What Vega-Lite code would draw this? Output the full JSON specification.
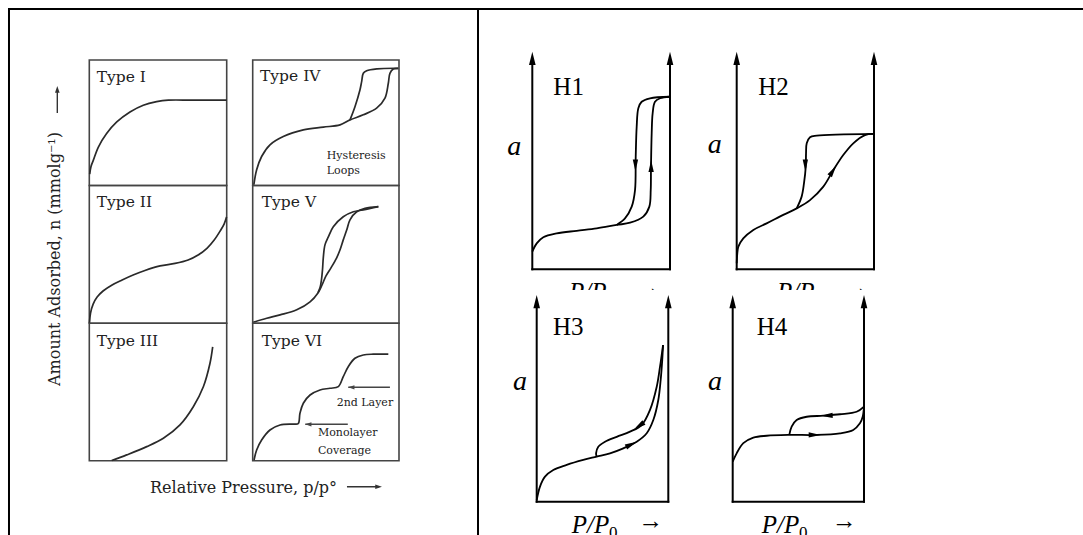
{
"$schema":"https://vega.github.io/schema/vega-lite/v6.json",
"width":1083,"height":535,"autosize":{"type":"none"},"padding":0,"background":"white",
"config":{"view":{"stroke":null},"axis":{"disable":true},"legend":{"disable":true}},
"resolve":{"scale":{"x":"independent","y":"independent"}},
"datasets":{
"fig":[
{"part":"frame","x":-0.2625,"y":1.1273,"x2":3.2086,"y2":1.1273},
{"part":"frame","x":-0.2593,"y":1.1298,"x2":-0.2593,"y2":-0.1854},
{"part":"frame","x":1.2551,"y":1.1298,"x2":1.2551,"y2":-0.1854},
{"part":"ylab","x":-0.1108,"y":0.5034,"text":"Amount Adsorbed, n (mmolg⁻¹)"},
{"part":"xlab","x":0.196,"y":-0.0799,"text":"Relative Pressure, p/p°"},
{"part":"aline","x":0.832,"y":-0.0649,"x2":0.935,"y2":-0.0649},
{"part":"aline","x":-0.1033,"y":0.8677,"x2":-0.1033,"y2":0.925},
{"part":"head","x":0.945,"y":-0.0649,"heading":90},
{"part":"head","x":-0.1033,"y":0.935,"heading":0}
],
"t1":[
{"part":"box","x":0,"y":0,"x2":1,"y2":1},
{"part":"label","x":0.054,"y":0.826,"text":"Type I"},
{"part":"curve","branch":"a","i":0,"x":0.003,"y":0.09},
{"part":"curve","branch":"a","i":1,"x":0.012,"y":0.15},
{"part":"curve","branch":"a","i":2,"x":0.029,"y":0.2},
{"part":"curve","branch":"a","i":3,"x":0.066,"y":0.306},
{"part":"curve","branch":"a","i":4,"x":0.126,"y":0.414},
{"part":"curve","branch":"a","i":5,"x":0.2,"y":0.506},
{"part":"curve","branch":"a","i":6,"x":0.296,"y":0.586},
{"part":"curve","branch":"a","i":7,"x":0.393,"y":0.64},
{"part":"curve","branch":"a","i":8,"x":0.49,"y":0.668},
{"part":"curve","branch":"a","i":9,"x":0.575,"y":0.68},
{"part":"curve","branch":"a","i":10,"x":0.75,"y":0.68},
{"part":"curve","branch":"a","i":11,"x":1.0,"y":0.68}
],
"t2":[
{"part":"box","x":0,"y":0,"x2":1,"y2":1},
{"part":"label","x":0.054,"y":0.843,"text":"Type II"},
{"part":"curve","branch":"a","i":0,"x":0.001,"y":0.001},
{"part":"curve","branch":"a","i":1,"x":0.009,"y":0.074},
{"part":"curve","branch":"a","i":2,"x":0.028,"y":0.139},
{"part":"curve","branch":"a","i":3,"x":0.057,"y":0.19},
{"part":"curve","branch":"a","i":4,"x":0.1,"y":0.234},
{"part":"curve","branch":"a","i":5,"x":0.166,"y":0.278},
{"part":"curve","branch":"a","i":6,"x":0.239,"y":0.314},
{"part":"curve","branch":"a","i":7,"x":0.319,"y":0.35},
{"part":"curve","branch":"a","i":8,"x":0.405,"y":0.383},
{"part":"curve","branch":"a","i":9,"x":0.515,"y":0.416},
{"part":"curve","branch":"a","i":10,"x":0.624,"y":0.434},
{"part":"curve","branch":"a","i":11,"x":0.719,"y":0.459},
{"part":"curve","branch":"a","i":12,"x":0.792,"y":0.495},
{"part":"curve","branch":"a","i":13,"x":0.858,"y":0.546},
{"part":"curve","branch":"a","i":14,"x":0.909,"y":0.604},
{"part":"curve","branch":"a","i":15,"x":0.952,"y":0.669},
{"part":"curve","branch":"a","i":16,"x":0.981,"y":0.72},
{"part":"curve","branch":"a","i":17,"x":0.999,"y":0.771}
],
"t3":[
{"part":"box","x":0,"y":0,"x2":1,"y2":1},
{"part":"label","x":0.054,"y":0.833,"text":"Type III"},
{"part":"curve","branch":"a","i":0,"x":0.163,"y":0.002},
{"part":"curve","branch":"a","i":1,"x":0.272,"y":0.043},
{"part":"curve","branch":"a","i":2,"x":0.418,"y":0.103},
{"part":"curve","branch":"a","i":3,"x":0.539,"y":0.164},
{"part":"curve","branch":"a","i":4,"x":0.66,"y":0.261},
{"part":"curve","branch":"a","i":5,"x":0.757,"y":0.393},
{"part":"curve","branch":"a","i":6,"x":0.83,"y":0.538},
{"part":"curve","branch":"a","i":7,"x":0.878,"y":0.707},
{"part":"curve","branch":"a","i":8,"x":0.898,"y":0.828}
],
"t4":[
{"part":"box","x":0,"y":0,"x2":1,"y2":1},
{"part":"label","x":0.05,"y":0.835,"text":"Type IV"},
{"part":"note","x":0.506,"y":0.211,"text":"Hysteresis"},
{"part":"note","x":0.506,"y":0.089,"text":"Loops"},
{"part":"curve","branch":"ads","i":0,"x":0.008,"y":0.006},
{"part":"curve","branch":"ads","i":1,"x":0.027,"y":0.125},
{"part":"curve","branch":"ads","i":2,"x":0.061,"y":0.231},
{"part":"curve","branch":"ads","i":3,"x":0.118,"y":0.324},
{"part":"curve","branch":"ads","i":4,"x":0.209,"y":0.39},
{"part":"curve","branch":"ads","i":5,"x":0.346,"y":0.443},
{"part":"curve","branch":"ads","i":6,"x":0.483,"y":0.465},
{"part":"curve","branch":"ads","i":7,"x":0.597,"y":0.483},
{"part":"curve","branch":"ads","i":8,"x":0.665,"y":0.523},
{"part":"curve","branch":"ads","i":9,"x":0.756,"y":0.563},
{"part":"curve","branch":"ads","i":10,"x":0.847,"y":0.616},
{"part":"curve","branch":"ads","i":11,"x":0.904,"y":0.696},
{"part":"curve","branch":"ads","i":12,"x":0.927,"y":0.815},
{"part":"curve","branch":"ads","i":13,"x":0.938,"y":0.894},
{"part":"curve","branch":"ads","i":14,"x":0.961,"y":0.928},
{"part":"curve","branch":"ads","i":15,"x":0.995,"y":0.934},
{"part":"curve","branch":"des","i":0,"x":0.995,"y":0.934},
{"part":"curve","branch":"des","i":1,"x":0.85,"y":0.93},
{"part":"curve","branch":"des","i":2,"x":0.779,"y":0.915},
{"part":"curve","branch":"des","i":3,"x":0.756,"y":0.894},
{"part":"curve","branch":"des","i":4,"x":0.745,"y":0.83},
{"part":"curve","branch":"des","i":5,"x":0.733,"y":0.761},
{"part":"curve","branch":"des","i":6,"x":0.699,"y":0.628},
{"part":"curve","branch":"des","i":7,"x":0.665,"y":0.523}
],
"t5":[
{"part":"box","x":0,"y":0,"x2":1,"y2":1},
{"part":"label","x":0.062,"y":0.847,"text":"Type V"},
{"part":"curve","branch":"ads","i":0,"x":0.004,"y":0.007},
{"part":"curve","branch":"ads","i":1,"x":0.096,"y":0.036},
{"part":"curve","branch":"ads","i":2,"x":0.187,"y":0.06},
{"part":"curve","branch":"ads","i":3,"x":0.301,"y":0.097},
{"part":"curve","branch":"ads","i":4,"x":0.392,"y":0.155},
{"part":"curve","branch":"ads","i":5,"x":0.446,"y":0.22},
{"part":"curve","branch":"ads","i":6,"x":0.474,"y":0.278},
{"part":"curve","branch":"ads","i":7,"x":0.501,"y":0.344},
{"part":"curve","branch":"ads","i":8,"x":0.535,"y":0.402},
{"part":"curve","branch":"ads","i":9,"x":0.574,"y":0.475},
{"part":"curve","branch":"ads","i":10,"x":0.597,"y":0.533},
{"part":"curve","branch":"ads","i":11,"x":0.619,"y":0.605},
{"part":"curve","branch":"ads","i":12,"x":0.643,"y":0.678},
{"part":"curve","branch":"ads","i":13,"x":0.665,"y":0.751},
{"part":"curve","branch":"ads","i":14,"x":0.711,"y":0.809},
{"part":"curve","branch":"ads","i":15,"x":0.768,"y":0.834},
{"part":"curve","branch":"ads","i":16,"x":0.859,"y":0.847},
{"part":"curve","branch":"des","i":0,"x":0.859,"y":0.847},
{"part":"curve","branch":"des","i":1,"x":0.756,"y":0.823},
{"part":"curve","branch":"des","i":2,"x":0.688,"y":0.809},
{"part":"curve","branch":"des","i":3,"x":0.619,"y":0.773},
{"part":"curve","branch":"des","i":4,"x":0.551,"y":0.7},
{"part":"curve","branch":"des","i":5,"x":0.517,"y":0.627},
{"part":"curve","branch":"des","i":6,"x":0.494,"y":0.569},
{"part":"curve","branch":"des","i":7,"x":0.483,"y":0.482},
{"part":"curve","branch":"des","i":8,"x":0.477,"y":0.387},
{"part":"curve","branch":"des","i":9,"x":0.47,"y":0.315},
{"part":"curve","branch":"des","i":10,"x":0.46,"y":0.257},
{"part":"curve","branch":"des","i":11,"x":0.446,"y":0.22}
],
"t6":[
{"part":"box","x":0,"y":0,"x2":1,"y2":1},
{"part":"label","x":0.062,"y":0.835,"text":"Type VI"},
{"part":"note","x":0.574,"y":0.398,"text":"2nd Layer"},
{"part":"note","x":0.446,"y":0.18,"text":"Monolayer"},
{"part":"note","x":0.446,"y":0.047,"text":"Coverage"},
{"part":"aline","x":0.653,"y":0.534,"x2":0.938,"y2":0.534},
{"part":"aline","x":0.359,"y":0.265,"x2":0.65,"y2":0.265},
{"part":"head","x":0.653,"y":0.534,"heading":270},
{"part":"head","x":0.359,"y":0.265,"heading":270},
{"part":"curve","branch":"a","i":0,"x":0.009,"y":0.006},
{"part":"curve","branch":"a","i":1,"x":0.027,"y":0.078},
{"part":"curve","branch":"a","i":2,"x":0.061,"y":0.151},
{"part":"curve","branch":"a","i":3,"x":0.118,"y":0.224},
{"part":"curve","branch":"a","i":4,"x":0.187,"y":0.26},
{"part":"curve","branch":"a","i":5,"x":0.276,"y":0.267},
{"part":"curve","branch":"a","i":6,"x":0.311,"y":0.27},
{"part":"curve","branch":"a","i":7,"x":0.323,"y":0.345},
{"part":"curve","branch":"a","i":8,"x":0.346,"y":0.418},
{"part":"curve","branch":"a","i":9,"x":0.392,"y":0.478},
{"part":"curve","branch":"a","i":10,"x":0.46,"y":0.515},
{"part":"curve","branch":"a","i":11,"x":0.528,"y":0.527},
{"part":"curve","branch":"a","i":12,"x":0.585,"y":0.539},
{"part":"curve","branch":"a","i":13,"x":0.619,"y":0.611},
{"part":"curve","branch":"a","i":14,"x":0.653,"y":0.684},
{"part":"curve","branch":"a","i":15,"x":0.699,"y":0.745},
{"part":"curve","branch":"a","i":16,"x":0.756,"y":0.769},
{"part":"curve","branch":"a","i":17,"x":0.824,"y":0.775},
{"part":"curve","branch":"a","i":18,"x":0.927,"y":0.775}
],
"h1":[
{"part":"axis","x":0,"y":0,"x2":0,"y2":0.96},
{"part":"axis","x":1,"y":0,"x2":1,"y2":0.96},
{"part":"axis","x":0,"y":0,"x2":1,"y2":0},
{"part":"tip","x":0,"y":1},
{"part":"tip","x":1,"y":1},
{"part":"title","x":0.153,"y":0.801,"text":"H1"},
{"part":"alab","x":-0.131,"y":0.525,"text":"a"},
{"part":"xlab","x":0.267,"y":-0.141,"text":"P/P"},
{"part":"sub","x":0.539,"y":-0.163,"text":"0"},
{"part":"arr","x":0.753,"y":-0.123,"text":"→"},
{"part":"head","x":0.749,"y":0.449,"heading":180},
{"part":"head","x":0.863,"y":0.502,"heading":0},
{"part":"curve","branch":"ads","i":0,"x":0,"y":0.081},
{"part":"curve","branch":"ads","i":1,"x":0.032,"y":0.119},
{"part":"curve","branch":"ads","i":2,"x":0.08,"y":0.147},
{"part":"curve","branch":"ads","i":3,"x":0.177,"y":0.165},
{"part":"curve","branch":"ads","i":4,"x":0.322,"y":0.177},
{"part":"curve","branch":"ads","i":5,"x":0.468,"y":0.188},
{"part":"curve","branch":"ads","i":6,"x":0.613,"y":0.204},
{"part":"curve","branch":"ads","i":7,"x":0.71,"y":0.214},
{"part":"curve","branch":"ads","i":8,"x":0.806,"y":0.242},
{"part":"curve","branch":"ads","i":9,"x":0.85,"y":0.288},
{"part":"curve","branch":"ads","i":10,"x":0.86,"y":0.364},
{"part":"curve","branch":"ads","i":11,"x":0.862,"y":0.472},
{"part":"curve","branch":"ads","i":12,"x":0.867,"y":0.625},
{"part":"curve","branch":"ads","i":13,"x":0.874,"y":0.717},
{"part":"curve","branch":"ads","i":14,"x":0.891,"y":0.77},
{"part":"curve","branch":"ads","i":15,"x":0.928,"y":0.786},
{"part":"curve","branch":"ads","i":16,"x":1.0,"y":0.793},
{"part":"curve","branch":"des","i":0,"x":1.0,"y":0.793},
{"part":"curve","branch":"des","i":1,"x":0.855,"y":0.786},
{"part":"curve","branch":"des","i":2,"x":0.794,"y":0.77},
{"part":"curve","branch":"des","i":3,"x":0.77,"y":0.74},
{"part":"curve","branch":"des","i":4,"x":0.758,"y":0.655},
{"part":"curve","branch":"des","i":5,"x":0.751,"y":0.517},
{"part":"curve","branch":"des","i":6,"x":0.746,"y":0.364},
{"part":"curve","branch":"des","i":7,"x":0.722,"y":0.288},
{"part":"curve","branch":"des","i":8,"x":0.673,"y":0.234},
{"part":"curve","branch":"des","i":9,"x":0.613,"y":0.204}
],
"h2":[
{"part":"axis","x":0,"y":0,"x2":0,"y2":0.96},
{"part":"axis","x":1,"y":0,"x2":1,"y2":0.96},
{"part":"axis","x":0,"y":0,"x2":1,"y2":0},
{"part":"tip","x":0,"y":1},
{"part":"tip","x":1,"y":1},
{"part":"title","x":0.157,"y":0.801,"text":"H2"},
{"part":"alab","x":-0.159,"y":0.534,"text":"a"},
{"part":"xlab","x":0.293,"y":-0.141,"text":"P/P"},
{"part":"sub","x":0.567,"y":-0.163,"text":"0"},
{"part":"arr","x":0.781,"y":-0.123,"text":"→"},
{"part":"head","x":0.5,"y":0.449,"heading":180},
{"part":"head","x":0.725,"y":0.476,"heading":33},
{"part":"curve","branch":"ads","i":0,"x":0,"y":0.028},
{"part":"curve","branch":"ads","i":1,"x":0.004,"y":0.07},
{"part":"curve","branch":"ads","i":2,"x":0.012,"y":0.104},
{"part":"curve","branch":"ads","i":3,"x":0.048,"y":0.142},
{"part":"curve","branch":"ads","i":4,"x":0.121,"y":0.181},
{"part":"curve","branch":"ads","i":5,"x":0.218,"y":0.211},
{"part":"curve","branch":"ads","i":6,"x":0.339,"y":0.25},
{"part":"curve","branch":"ads","i":7,"x":0.437,"y":0.28},
{"part":"curve","branch":"ads","i":8,"x":0.534,"y":0.318},
{"part":"curve","branch":"ads","i":9,"x":0.631,"y":0.38},
{"part":"curve","branch":"ads","i":10,"x":0.704,"y":0.456},
{"part":"curve","branch":"ads","i":11,"x":0.776,"y":0.525},
{"part":"curve","branch":"ads","i":12,"x":0.849,"y":0.579},
{"part":"curve","branch":"ads","i":13,"x":0.934,"y":0.617},
{"part":"curve","branch":"ads","i":14,"x":1.0,"y":0.622},
{"part":"curve","branch":"des","i":0,"x":1.0,"y":0.622},
{"part":"curve","branch":"des","i":1,"x":0.583,"y":0.614},
{"part":"curve","branch":"des","i":2,"x":0.534,"y":0.607},
{"part":"curve","branch":"des","i":3,"x":0.51,"y":0.579},
{"part":"curve","branch":"des","i":4,"x":0.505,"y":0.533},
{"part":"curve","branch":"des","i":5,"x":0.503,"y":0.472},
{"part":"curve","branch":"des","i":6,"x":0.49,"y":0.395},
{"part":"curve","branch":"des","i":7,"x":0.473,"y":0.334},
{"part":"curve","branch":"des","i":8,"x":0.437,"y":0.28}
],
"h3":[
{"part":"cover","x":-0.279,"y":0.937,"x2":3.52,"y2":1.0237},
{"part":"axis","x":0,"y":0,"x2":0,"y2":0.96},
{"part":"axis","x":1,"y":0,"x2":1,"y2":0.96},
{"part":"axis","x":0,"y":0,"x2":1,"y2":0},
{"part":"tip","x":0,"y":1},
{"part":"tip","x":1,"y":1},
{"part":"title","x":0.124,"y":0.806,"text":"H3"},
{"part":"alab","x":-0.127,"y":0.54,"text":"a"},
{"part":"xlab","x":0.266,"y":-0.153,"text":"P/P"},
{"part":"sub","x":0.549,"y":-0.176,"text":"0"},
{"part":"arr","x":0.772,"y":-0.134,"text":"→"},
{"part":"head","x":0.76,"y":0.29,"heading":64},
{"part":"head","x":0.74,"y":0.35,"heading":235},
{"part":"curve","branch":"ads","i":0,"x":0,"y":0.008},
{"part":"curve","branch":"ads","i":1,"x":0.025,"y":0.073},
{"part":"curve","branch":"ads","i":2,"x":0.063,"y":0.121},
{"part":"curve","branch":"ads","i":3,"x":0.126,"y":0.153},
{"part":"curve","branch":"ads","i":4,"x":0.228,"y":0.178},
{"part":"curve","branch":"ads","i":5,"x":0.354,"y":0.202},
{"part":"curve","branch":"ads","i":6,"x":0.456,"y":0.218},
{"part":"curve","branch":"ads","i":7,"x":0.557,"y":0.234},
{"part":"curve","branch":"ads","i":8,"x":0.658,"y":0.258},
{"part":"curve","branch":"ads","i":9,"x":0.76,"y":0.29},
{"part":"curve","branch":"ads","i":10,"x":0.836,"y":0.331},
{"part":"curve","branch":"ads","i":11,"x":0.886,"y":0.395},
{"part":"curve","branch":"ads","i":12,"x":0.924,"y":0.492},
{"part":"curve","branch":"ads","i":13,"x":0.942,"y":0.589},
{"part":"curve","branch":"ads","i":14,"x":0.954,"y":0.686},
{"part":"curve","branch":"ads","i":15,"x":0.96,"y":0.758},
{"part":"curve","branch":"des","i":0,"x":0.96,"y":0.758},
{"part":"curve","branch":"des","i":1,"x":0.937,"y":0.653},
{"part":"curve","branch":"des","i":2,"x":0.912,"y":0.556},
{"part":"curve","branch":"des","i":3,"x":0.861,"y":0.444},
{"part":"curve","branch":"des","i":4,"x":0.798,"y":0.371},
{"part":"curve","branch":"des","i":5,"x":0.709,"y":0.339},
{"part":"curve","branch":"des","i":6,"x":0.608,"y":0.314},
{"part":"curve","branch":"des","i":7,"x":0.519,"y":0.29},
{"part":"curve","branch":"des","i":8,"x":0.468,"y":0.266},
{"part":"curve","branch":"des","i":9,"x":0.451,"y":0.234},
{"part":"curve","branch":"des","i":10,"x":0.456,"y":0.218}
],
"h4":[
{"part":"axis","x":0,"y":0,"x2":0,"y2":0.96},
{"part":"axis","x":1,"y":0,"x2":1,"y2":0.96},
{"part":"axis","x":0,"y":0,"x2":1,"y2":0},
{"part":"tip","x":0,"y":1},
{"part":"tip","x":1,"y":1},
{"part":"title","x":0.183,"y":0.806,"text":"H4"},
{"part":"alab","x":-0.135,"y":0.54,"text":"a"},
{"part":"xlab","x":0.221,"y":-0.153,"text":"P/P"},
{"part":"sub","x":0.505,"y":-0.176,"text":"0"},
{"part":"arr","x":0.754,"y":-0.134,"text":"→"},
{"part":"head","x":0.67,"y":0.323,"heading":90},
{"part":"head","x":0.67,"y":0.416,"heading":268},
{"part":"curve","branch":"ads","i":0,"x":0,"y":0.194},
{"part":"curve","branch":"ads","i":1,"x":0.03,"y":0.234},
{"part":"curve","branch":"ads","i":2,"x":0.081,"y":0.283},
{"part":"curve","branch":"ads","i":3,"x":0.157,"y":0.31},
{"part":"curve","branch":"ads","i":4,"x":0.259,"y":0.319},
{"part":"curve","branch":"ads","i":5,"x":0.436,"y":0.323},
{"part":"curve","branch":"ads","i":6,"x":0.64,"y":0.323},
{"part":"curve","branch":"ads","i":7,"x":0.817,"y":0.331},
{"part":"curve","branch":"ads","i":8,"x":0.918,"y":0.347},
{"part":"curve","branch":"ads","i":9,"x":0.969,"y":0.379},
{"part":"curve","branch":"ads","i":10,"x":0.99,"y":0.411},
{"part":"curve","branch":"ads","i":11,"x":1.0,"y":0.46},
{"part":"curve","branch":"des","i":0,"x":1.0,"y":0.46},
{"part":"curve","branch":"des","i":1,"x":0.944,"y":0.435},
{"part":"curve","branch":"des","i":2,"x":0.817,"y":0.423},
{"part":"curve","branch":"des","i":3,"x":0.69,"y":0.416},
{"part":"curve","branch":"des","i":4,"x":0.564,"y":0.411},
{"part":"curve","branch":"des","i":5,"x":0.487,"y":0.395},
{"part":"curve","branch":"des","i":6,"x":0.449,"y":0.363},
{"part":"curve","branch":"des","i":7,"x":0.431,"y":0.323}
]
},
"layer":[
{"data":{"name":"fig"},
 "encoding":{"x":{"field":"x","type":"quantitative","scale":{"domain":[0,1],"range":[89.3,399],"nice":false,"zero":false}},
             "y":{"field":"y","type":"quantitative","scale":{"domain":[0,1],"range":[460.7,60],"nice":false,"zero":false}}},
 "layer":[
  {"transform":[{"filter":"datum.part==='frame'"}],"mark":{"type":"rule","color":"black","strokeWidth":2},"encoding":{"x2":{"field":"x2"},"y2":{"field":"y2"}}},
  {"transform":[{"filter":"datum.part==='ylab'"}],"mark":{"type":"text","font":"DejaVu Serif","fontSize":16,"angle":270,"align":"center","baseline":"middle","color":"#222"},"encoding":{"text":{"field":"text"}}},
  {"transform":[{"filter":"datum.part==='xlab'"}],"mark":{"type":"text","font":"DejaVu Serif","fontSize":16,"align":"left","baseline":"alphabetic","color":"#222"},"encoding":{"text":{"field":"text"}}},
  {"transform":[{"filter":"datum.part==='aline'"}],"mark":{"type":"rule","color":"#333","strokeWidth":1.4},"encoding":{"x2":{"field":"x2"},"y2":{"field":"y2"}}},
  {"transform":[{"filter":"datum.part==='head'"}],"mark":{"type":"point","shape":"M0,0L0.55,1.6L-0.55,1.6Z","size":70,"filled":true,"opacity":1,"color":"#333"},"encoding":{"angle":{"field":"heading","type":"quantitative","scale":null}}}
 ]},
{"data":{"name":"t1"},
 "encoding":{"x":{"field":"x","type":"quantitative","scale":{"domain":[0,1],"range":[89.3,226.7],"nice":false,"zero":false}},
             "y":{"field":"y","type":"quantitative","scale":{"domain":[0,1],"range":[185.5,60],"nice":false,"zero":false}}},
 "layer":[
  {"transform":[{"filter":"datum.part==='box'"}],"mark":{"type":"rect","fillOpacity":0,"stroke":"#444","strokeWidth":1.6},"encoding":{"x2":{"field":"x2"},"y2":{"field":"y2"}}},
  {"transform":[{"filter":"datum.part==='curve'"}],"mark":{"type":"line","interpolate":"catmull-rom","color":"#2a2a2a","strokeWidth":1.7},"encoding":{"detail":{"field":"branch"},"order":{"field":"i","type":"quantitative"}}},
  {"transform":[{"filter":"datum.part==='label'"}],"mark":{"type":"text","font":"DejaVu Serif","fontSize":15.5,"align":"left","baseline":"alphabetic","color":"#222"},"encoding":{"text":{"field":"text"}}}
 ]},
{"data":{"name":"t2"},
 "encoding":{"x":{"field":"x","type":"quantitative","scale":{"domain":[0,1],"range":[89.3,226.7],"nice":false,"zero":false}},
             "y":{"field":"y","type":"quantitative","scale":{"domain":[0,1],"range":[323.2,185.5],"nice":false,"zero":false}}},
 "layer":[
  {"transform":[{"filter":"datum.part==='box'"}],"mark":{"type":"rect","fillOpacity":0,"stroke":"#444","strokeWidth":1.6},"encoding":{"x2":{"field":"x2"},"y2":{"field":"y2"}}},
  {"transform":[{"filter":"datum.part==='curve'"}],"mark":{"type":"line","interpolate":"catmull-rom","color":"#2a2a2a","strokeWidth":1.7},"encoding":{"detail":{"field":"branch"},"order":{"field":"i","type":"quantitative"}}},
  {"transform":[{"filter":"datum.part==='label'"}],"mark":{"type":"text","font":"DejaVu Serif","fontSize":15.5,"align":"left","baseline":"alphabetic","color":"#222"},"encoding":{"text":{"field":"text"}}}
 ]},
{"data":{"name":"t3"},
 "encoding":{"x":{"field":"x","type":"quantitative","scale":{"domain":[0,1],"range":[89.3,226.7],"nice":false,"zero":false}},
             "y":{"field":"y","type":"quantitative","scale":{"domain":[0,1],"range":[460.8,323.2],"nice":false,"zero":false}}},
 "layer":[
  {"transform":[{"filter":"datum.part==='box'"}],"mark":{"type":"rect","fillOpacity":0,"stroke":"#444","strokeWidth":1.6},"encoding":{"x2":{"field":"x2"},"y2":{"field":"y2"}}},
  {"transform":[{"filter":"datum.part==='curve'"}],"mark":{"type":"line","interpolate":"catmull-rom","color":"#2a2a2a","strokeWidth":1.7},"encoding":{"detail":{"field":"branch"},"order":{"field":"i","type":"quantitative"}}},
  {"transform":[{"filter":"datum.part==='label'"}],"mark":{"type":"text","font":"DejaVu Serif","fontSize":15.5,"align":"left","baseline":"alphabetic","color":"#222"},"encoding":{"text":{"field":"text"}}}
 ]},
{"data":{"name":"t4"},
 "encoding":{"x":{"field":"x","type":"quantitative","scale":{"domain":[0,1],"range":[252.7,399],"nice":false,"zero":false}},
             "y":{"field":"y","type":"quantitative","scale":{"domain":[0,1],"range":[185.5,60],"nice":false,"zero":false}}},
 "layer":[
  {"transform":[{"filter":"datum.part==='box'"}],"mark":{"type":"rect","fillOpacity":0,"stroke":"#444","strokeWidth":1.6},"encoding":{"x2":{"field":"x2"},"y2":{"field":"y2"}}},
  {"transform":[{"filter":"datum.part==='curve'"}],"mark":{"type":"line","interpolate":"catmull-rom","color":"#2a2a2a","strokeWidth":1.7},"encoding":{"detail":{"field":"branch"},"order":{"field":"i","type":"quantitative"}}},
  {"transform":[{"filter":"datum.part==='label'"}],"mark":{"type":"text","font":"DejaVu Serif","fontSize":15.5,"align":"left","baseline":"alphabetic","color":"#222"},"encoding":{"text":{"field":"text"}}},
  {"transform":[{"filter":"datum.part==='note'"}],"mark":{"type":"text","font":"DejaVu Serif","fontSize":11,"align":"left","baseline":"alphabetic","color":"#222"},"encoding":{"text":{"field":"text"}}}
 ]},
{"data":{"name":"t5"},
 "encoding":{"x":{"field":"x","type":"quantitative","scale":{"domain":[0,1],"range":[252.7,399],"nice":false,"zero":false}},
             "y":{"field":"y","type":"quantitative","scale":{"domain":[0,1],"range":[323.2,185.5],"nice":false,"zero":false}}},
 "layer":[
  {"transform":[{"filter":"datum.part==='box'"}],"mark":{"type":"rect","fillOpacity":0,"stroke":"#444","strokeWidth":1.6},"encoding":{"x2":{"field":"x2"},"y2":{"field":"y2"}}},
  {"transform":[{"filter":"datum.part==='curve'"}],"mark":{"type":"line","interpolate":"catmull-rom","color":"#2a2a2a","strokeWidth":1.7},"encoding":{"detail":{"field":"branch"},"order":{"field":"i","type":"quantitative"}}},
  {"transform":[{"filter":"datum.part==='label'"}],"mark":{"type":"text","font":"DejaVu Serif","fontSize":15.5,"align":"left","baseline":"alphabetic","color":"#222"},"encoding":{"text":{"field":"text"}}}
 ]},
{"data":{"name":"t6"},
 "encoding":{"x":{"field":"x","type":"quantitative","scale":{"domain":[0,1],"range":[252.7,399],"nice":false,"zero":false}},
             "y":{"field":"y","type":"quantitative","scale":{"domain":[0,1],"range":[460.8,323.2],"nice":false,"zero":false}}},
 "layer":[
  {"transform":[{"filter":"datum.part==='box'"}],"mark":{"type":"rect","fillOpacity":0,"stroke":"#444","strokeWidth":1.6},"encoding":{"x2":{"field":"x2"},"y2":{"field":"y2"}}},
  {"transform":[{"filter":"datum.part==='curve'"}],"mark":{"type":"line","interpolate":"catmull-rom","color":"#2a2a2a","strokeWidth":1.7},"encoding":{"detail":{"field":"branch"},"order":{"field":"i","type":"quantitative"}}},
  {"transform":[{"filter":"datum.part==='label'"}],"mark":{"type":"text","font":"DejaVu Serif","fontSize":15.5,"align":"left","baseline":"alphabetic","color":"#222"},"encoding":{"text":{"field":"text"}}},
  {"transform":[{"filter":"datum.part==='note'"}],"mark":{"type":"text","font":"DejaVu Serif","fontSize":11,"align":"left","baseline":"alphabetic","color":"#222"},"encoding":{"text":{"field":"text"}}},
  {"transform":[{"filter":"datum.part==='aline'"}],"mark":{"type":"rule","color":"#444","strokeWidth":1.5},"encoding":{"x2":{"field":"x2"},"y2":{"field":"y2"}}},
  {"transform":[{"filter":"datum.part==='head'"}],"mark":{"type":"point","shape":"M0,0L0.55,1.6L-0.55,1.6Z","size":60,"filled":true,"opacity":1,"color":"#444"},"encoding":{"angle":{"field":"heading","type":"quantitative","scale":null}}}
 ]},
{"data":{"name":"h1"},
 "encoding":{"x":{"field":"x","type":"quantitative","scale":{"domain":[0,1],"range":[532.3,670],"nice":false,"zero":false}},
             "y":{"field":"y","type":"quantitative","scale":{"domain":[0,1],"range":[269.3,51.7],"nice":false,"zero":false}}},
 "layer":[
  {"transform":[{"filter":"datum.part==='axis'"}],"mark":{"type":"rule","color":"black","strokeWidth":2,"strokeCap":"square"},"encoding":{"x2":{"field":"x2"},"y2":{"field":"y2"}}},
  {"transform":[{"filter":"datum.part==='tip'"}],"mark":{"type":"point","shape":"M0,0L0.5,2L-0.5,2Z","size":177,"filled":true,"opacity":1,"color":"black"}},
  {"transform":[{"filter":"datum.part==='curve'"}],"mark":{"type":"line","interpolate":"catmull-rom","color":"black","strokeWidth":1.8},"encoding":{"detail":{"field":"branch"},"order":{"field":"i","type":"quantitative"}}},
  {"transform":[{"filter":"datum.part==='head'"}],"mark":{"type":"point","shape":"M0,0L0.4,1.8L-0.4,1.8Z","size":178,"filled":true,"opacity":1,"color":"black"},"encoding":{"angle":{"field":"heading","type":"quantitative","scale":null}}},
  {"transform":[{"filter":"datum.part==='title'"}],"mark":{"type":"text","font":"Liberation Serif","fontSize":25,"align":"left","baseline":"alphabetic","color":"black"},"encoding":{"text":{"field":"text"}}},
  {"transform":[{"filter":"datum.part==='alab'"}],"mark":{"type":"text","font":"Liberation Serif","fontSize":28,"fontStyle":"italic","align":"center","baseline":"alphabetic","color":"black"},"encoding":{"text":{"field":"text"}}},
  {"transform":[{"filter":"datum.part==='xlab'"}],"mark":{"type":"text","font":"Liberation Serif","fontSize":25,"fontStyle":"italic","align":"left","baseline":"alphabetic","color":"black"},"encoding":{"text":{"field":"text"}}},
  {"transform":[{"filter":"datum.part==='sub'"}],"mark":{"type":"text","font":"Liberation Serif","fontSize":17,"align":"left","baseline":"alphabetic","color":"black"},"encoding":{"text":{"field":"text"}}},
  {"transform":[{"filter":"datum.part==='arr'"}],"mark":{"type":"text","font":"Liberation Serif","fontSize":25,"align":"left","baseline":"alphabetic","color":"black"},"encoding":{"text":{"field":"text"}}}
 ]},
{"data":{"name":"h2"},
 "encoding":{"x":{"field":"x","type":"quantitative","scale":{"domain":[0,1],"range":[736.7,874],"nice":false,"zero":false}},
             "y":{"field":"y","type":"quantitative","scale":{"domain":[0,1],"range":[269.3,51.7],"nice":false,"zero":false}}},
 "layer":[
  {"transform":[{"filter":"datum.part==='axis'"}],"mark":{"type":"rule","color":"black","strokeWidth":2,"strokeCap":"square"},"encoding":{"x2":{"field":"x2"},"y2":{"field":"y2"}}},
  {"transform":[{"filter":"datum.part==='tip'"}],"mark":{"type":"point","shape":"M0,0L0.5,2L-0.5,2Z","size":177,"filled":true,"opacity":1,"color":"black"}},
  {"transform":[{"filter":"datum.part==='curve'"}],"mark":{"type":"line","interpolate":"catmull-rom","color":"black","strokeWidth":1.8},"encoding":{"detail":{"field":"branch"},"order":{"field":"i","type":"quantitative"}}},
  {"transform":[{"filter":"datum.part==='head'"}],"mark":{"type":"point","shape":"M0,0L0.4,1.8L-0.4,1.8Z","size":178,"filled":true,"opacity":1,"color":"black"},"encoding":{"angle":{"field":"heading","type":"quantitative","scale":null}}},
  {"transform":[{"filter":"datum.part==='title'"}],"mark":{"type":"text","font":"Liberation Serif","fontSize":25,"align":"left","baseline":"alphabetic","color":"black"},"encoding":{"text":{"field":"text"}}},
  {"transform":[{"filter":"datum.part==='alab'"}],"mark":{"type":"text","font":"Liberation Serif","fontSize":28,"fontStyle":"italic","align":"center","baseline":"alphabetic","color":"black"},"encoding":{"text":{"field":"text"}}},
  {"transform":[{"filter":"datum.part==='xlab'"}],"mark":{"type":"text","font":"Liberation Serif","fontSize":25,"fontStyle":"italic","align":"left","baseline":"alphabetic","color":"black"},"encoding":{"text":{"field":"text"}}},
  {"transform":[{"filter":"datum.part==='sub'"}],"mark":{"type":"text","font":"Liberation Serif","fontSize":17,"align":"left","baseline":"alphabetic","color":"black"},"encoding":{"text":{"field":"text"}}},
  {"transform":[{"filter":"datum.part==='arr'"}],"mark":{"type":"text","font":"Liberation Serif","fontSize":25,"align":"left","baseline":"alphabetic","color":"black"},"encoding":{"text":{"field":"text"}}}
 ]},
{"data":{"name":"h3"},
 "encoding":{"x":{"field":"x","type":"quantitative","scale":{"domain":[0,1],"range":[536.7,668.3],"nice":false,"zero":false}},
             "y":{"field":"y","type":"quantitative","scale":{"domain":[0,1],"range":[501.7,295],"nice":false,"zero":false}}},
 "layer":[
  {"transform":[{"filter":"datum.part==='cover'"}],"mark":{"type":"rect","color":"white","opacity":1},"encoding":{"x2":{"field":"x2"},"y2":{"field":"y2"}}},
  {"transform":[{"filter":"datum.part==='axis'"}],"mark":{"type":"rule","color":"black","strokeWidth":2,"strokeCap":"square"},"encoding":{"x2":{"field":"x2"},"y2":{"field":"y2"}}},
  {"transform":[{"filter":"datum.part==='tip'"}],"mark":{"type":"point","shape":"M0,0L0.5,2L-0.5,2Z","size":177,"filled":true,"opacity":1,"color":"black"}},
  {"transform":[{"filter":"datum.part==='curve'"}],"mark":{"type":"line","interpolate":"catmull-rom","color":"black","strokeWidth":1.8},"encoding":{"detail":{"field":"branch"},"order":{"field":"i","type":"quantitative"}}},
  {"transform":[{"filter":"datum.part==='head'"}],"mark":{"type":"point","shape":"M0,0L0.4,1.8L-0.4,1.8Z","size":178,"filled":true,"opacity":1,"color":"black"},"encoding":{"angle":{"field":"heading","type":"quantitative","scale":null}}},
  {"transform":[{"filter":"datum.part==='title'"}],"mark":{"type":"text","font":"Liberation Serif","fontSize":25,"align":"left","baseline":"alphabetic","color":"black"},"encoding":{"text":{"field":"text"}}},
  {"transform":[{"filter":"datum.part==='alab'"}],"mark":{"type":"text","font":"Liberation Serif","fontSize":28,"fontStyle":"italic","align":"center","baseline":"alphabetic","color":"black"},"encoding":{"text":{"field":"text"}}},
  {"transform":[{"filter":"datum.part==='xlab'"}],"mark":{"type":"text","font":"Liberation Serif","fontSize":25,"fontStyle":"italic","align":"left","baseline":"alphabetic","color":"black"},"encoding":{"text":{"field":"text"}}},
  {"transform":[{"filter":"datum.part==='sub'"}],"mark":{"type":"text","font":"Liberation Serif","fontSize":17,"align":"left","baseline":"alphabetic","color":"black"},"encoding":{"text":{"field":"text"}}},
  {"transform":[{"filter":"datum.part==='arr'"}],"mark":{"type":"text","font":"Liberation Serif","fontSize":25,"align":"left","baseline":"alphabetic","color":"black"},"encoding":{"text":{"field":"text"}}}
 ]},
{"data":{"name":"h4"},
 "encoding":{"x":{"field":"x","type":"quantitative","scale":{"domain":[0,1],"range":[732.7,864],"nice":false,"zero":false}},
             "y":{"field":"y","type":"quantitative","scale":{"domain":[0,1],"range":[501.7,295],"nice":false,"zero":false}}},
 "layer":[
  {"transform":[{"filter":"datum.part==='axis'"}],"mark":{"type":"rule","color":"black","strokeWidth":2,"strokeCap":"square"},"encoding":{"x2":{"field":"x2"},"y2":{"field":"y2"}}},
  {"transform":[{"filter":"datum.part==='tip'"}],"mark":{"type":"point","shape":"M0,0L0.5,2L-0.5,2Z","size":177,"filled":true,"opacity":1,"color":"black"}},
  {"transform":[{"filter":"datum.part==='curve'"}],"mark":{"type":"line","interpolate":"catmull-rom","color":"black","strokeWidth":1.8},"encoding":{"detail":{"field":"branch"},"order":{"field":"i","type":"quantitative"}}},
  {"transform":[{"filter":"datum.part==='head'"}],"mark":{"type":"point","shape":"M0,0L0.4,1.8L-0.4,1.8Z","size":178,"filled":true,"opacity":1,"color":"black"},"encoding":{"angle":{"field":"heading","type":"quantitative","scale":null}}},
  {"transform":[{"filter":"datum.part==='title'"}],"mark":{"type":"text","font":"Liberation Serif","fontSize":25,"align":"left","baseline":"alphabetic","color":"black"},"encoding":{"text":{"field":"text"}}},
  {"transform":[{"filter":"datum.part==='alab'"}],"mark":{"type":"text","font":"Liberation Serif","fontSize":28,"fontStyle":"italic","align":"center","baseline":"alphabetic","color":"black"},"encoding":{"text":{"field":"text"}}},
  {"transform":[{"filter":"datum.part==='xlab'"}],"mark":{"type":"text","font":"Liberation Serif","fontSize":25,"fontStyle":"italic","align":"left","baseline":"alphabetic","color":"black"},"encoding":{"text":{"field":"text"}}},
  {"transform":[{"filter":"datum.part==='sub'"}],"mark":{"type":"text","font":"Liberation Serif","fontSize":17,"align":"left","baseline":"alphabetic","color":"black"},"encoding":{"text":{"field":"text"}}},
  {"transform":[{"filter":"datum.part==='arr'"}],"mark":{"type":"text","font":"Liberation Serif","fontSize":25,"align":"left","baseline":"alphabetic","color":"black"},"encoding":{"text":{"field":"text"}}}
 ]}
]
}
